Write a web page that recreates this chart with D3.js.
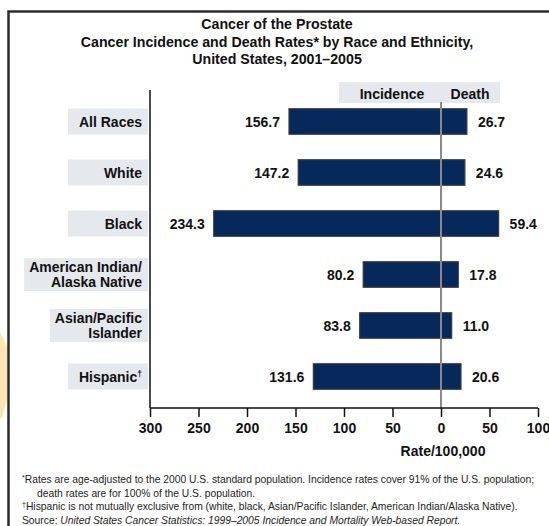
<!DOCTYPE html>
<html>
<head>
<meta charset="utf-8">
<script src="https://cdn.jsdelivr.net/npm/d3@7"></script>
<style>
html,body{margin:0;padding:0;background:#fff;}
svg{display:block;font-family:"Liberation Sans",Arial,Helvetica,sans-serif;}
</style>
</head>
<body>
<svg id="chart" width="549" height="526"></svg>
<script>
const categories = [["All Races"], ["White"], ["Black"], ["American Indian/", "Alaska Native"], ["Asian/Pacific", "Islander"], ["Hispanic"]];
const categoryMarks = ["", "", "", "", "", "†"];
const incidence = [156.7, 147.2, 234.3, 80.2, 83.8, 131.6];
const death = [26.7, 24.6, 59.4, 17.8, 11.0, 20.6];
const tickValues = [-300, -250, -200, -150, -100, -50, 0, 50, 100];
const tickLabels = ["300", "250", "200", "150", "100", "50", "0", "50", "100"];
const titleLines = ["Cancer of the Prostate", "Cancer Incidence and Death Rates* by Race and Ethnicity,", "United States, 2001–2005"];
const footnotes = [
  {sup:"*", text:"Rates are age-adjusted to the 2000 U.S. standard population. Incidence rates cover 91% of the U.S. population;", indent:0},
  {sup:"", text:"death rates are for 100% of the U.S. population.", indent:1},
  {sup:"†", text:"Hispanic is not mutually exclusive from (white, black, Asian/Pacific Islander, American Indian/Alaska Native).", indent:0}
];

const svg = d3.select("#chart");
const navy = "#06285a";
const boxGray = "#e5e8ec";
const fs = 14;

// decorative background shape & frame
svg.append("polygon").attr("points","0,332 7,346 7,400 2,418 0,418").attr("fill","#fbe5b3");
svg.append("path").attr("d","M8.5,526 V11.5 H549").attr("fill","none").attr("stroke","#2b2b2b").attr("stroke-width",2.5);

// title
svg.append("g").selectAll("text").data(titleLines).join("text")
  .attr("x", 277).attr("y", (d,i)=>29 + i*17.5)
  .attr("text-anchor","middle").attr("font-size",14.2).attr("font-weight","bold").attr("fill","#111")
  .text(d=>d);

const x = d3.scaleLinear().domain([-300, 100]).range([150, 538]);
const y = d3.scaleBand().domain(d3.range(categories.length)).range([96, 402]).paddingInner(0.5).paddingOuter(0.25);

// legend box
svg.append("rect").attr("x",339).attr("y",82).attr("width",161).attr("height",21).attr("fill",boxGray);
svg.append("text").attr("x",392).attr("y",99).attr("text-anchor","middle").attr("font-size",fs).attr("font-weight","bold").attr("fill","#111").text("Incidence");
svg.append("text").attr("x",470).attr("y",99).attr("text-anchor","middle").attr("font-size",fs).attr("font-weight","bold").attr("fill","#111").text("Death");

// category labels with gray boxes
const lab = svg.append("g");
categories.forEach((lines,i)=>{
  const cy = y(i) + y.bandwidth()/2;
  const g = lab.append("g");
  const t = g.append("text").attr("text-anchor","end").attr("font-size",fs).attr("font-weight","bold").attr("fill","#111");
  const lh = 15;
  lines.forEach((ln,j)=>{
    t.append("tspan").attr("x",142).attr("y", cy + 5 + (j - (lines.length-1)/2)*lh).text(ln);
    if (j===lines.length-1 && categoryMarks[i]) {
      t.append("tspan").attr("font-size",8.5).attr("dy",-5).text(categoryMarks[i]);
    }
  });
  const bb = t.node().getBBox();
  const w = Math.max(80, 148 - bb.x + 5);
  const h = lines.length>1 ? 33 : 26;
  g.insert("rect","text").attr("x",148 - w).attr("y",cy - h/2).attr("width",w).attr("height",h).attr("fill",boxGray);
});

// bars
const bars = svg.append("g");
bars.selectAll("rect.inc").data(incidence).join("rect").attr("class","inc")
  .attr("x", d=>x(-d)).attr("width", d=>x(0)-x(-d))
  .attr("y",(d,i)=>y(i)).attr("height",y.bandwidth())
  .attr("fill",navy).attr("stroke","#3a3a3a").attr("stroke-width",1.2);
bars.selectAll("rect.dth").data(death).join("rect").attr("class","dth")
  .attr("x", x(0)).attr("width", d=>x(d)-x(0))
  .attr("y",(d,i)=>y(i)).attr("height",y.bandwidth())
  .attr("fill",navy).attr("stroke","#3a3a3a").attr("stroke-width",1.2);
// zero line over bars
svg.append("line").attr("x1",x(0)).attr("x2",x(0)).attr("y1",102).attr("y2",408).attr("stroke","#8a8a8a").attr("stroke-width",2);

// value labels
bars.selectAll("text.inc").data(incidence).join("text").attr("class","inc")
  .attr("x", d=>x(-d)-9).attr("y",(d,i)=>y(i)+y.bandwidth()/2+5)
  .attr("text-anchor","end").attr("font-size",fs).attr("font-weight","bold").attr("fill","#111")
  .text(d=>d.toFixed(1));
bars.selectAll("text.dth").data(death).join("text").attr("class","dth")
  .attr("x", d=>x(d)+11).attr("y",(d,i)=>y(i)+y.bandwidth()/2+5)
  .attr("text-anchor","start").attr("font-size",fs).attr("font-weight","bold").attr("fill","#111")
  .text(d=>d.toFixed(1));

// axes
const xAxis = d3.axisBottom(x).tickValues(tickValues).tickFormat((d,i)=>tickLabels[i]).tickSize(9).tickPadding(6);
const gx = svg.append("g").attr("transform","translate(0,408)").call(xAxis);
gx.select(".domain").attr("stroke","#111").attr("stroke-width",1.5).attr("d","M"+x(-300)+",0H"+x(100));
gx.selectAll(".tick line").attr("stroke","#111").attr("stroke-width",1.5);
gx.selectAll(".tick text").attr("font-size",fs).attr("font-weight","bold").attr("fill","#111").attr("font-family","'Liberation Sans',Arial,sans-serif");
svg.append("line").attr("x1",150).attr("x2",150).attr("y1",90).attr("y2",408).attr("stroke","#111").attr("stroke-width",1.5);

svg.append("text").attr("x",x(0)+2).attr("y",456).attr("text-anchor","middle").attr("font-size",fs).attr("font-weight","bold").attr("fill","#111").text("Rate/100,000");

// footnotes
const fn = svg.append("g").attr("font-size",10.3).attr("fill","#222");
footnotes.forEach((f,i)=>{
  const t = fn.append("text").attr("x", f.indent ? 37 : 22).attr("y", 483 + i*13.5);
  if (f.sup) t.append("tspan").attr("font-size",7).attr("dy",-3).text(f.sup);
  t.append("tspan").attr("dy", f.sup?3:0).text(f.text);
});
const src = fn.append("text").attr("x",22).attr("y",483+3*13.5);
src.append("tspan").text("Source: ");
src.append("tspan").attr("font-style","italic").text("United States Cancer Statistics: 1999–2005 Incidence and Mortality Web-based Report.");
</script>
</body>
</html>
